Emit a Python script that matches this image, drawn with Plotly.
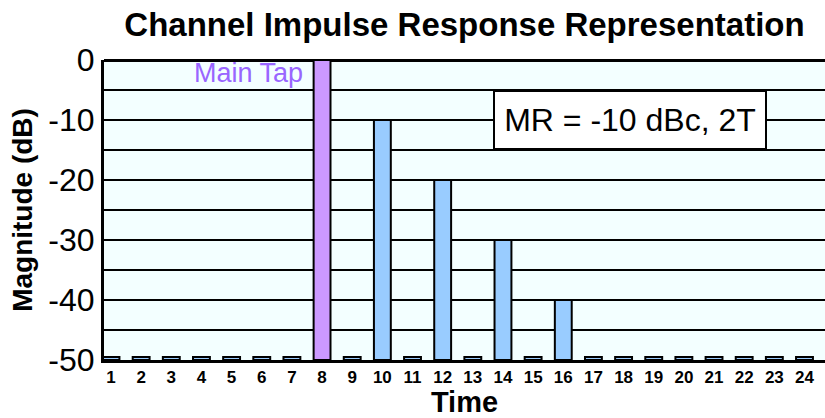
import plotly.graph_objects as go

# ---- data ----
time_taps = list(range(1, 25))
tick_labels = [str(t) for t in time_taps]
# magnitude in dB per tap (-49.5 = no tap, drawn as a stub at the floor)
magnitude_db = [-49.5, -49.5, -49.5, -49.5, -49.5, -49.5, -49.5, 0,
                -49.5, -10, -49.5, -20, -49.5, -30, -49.5, -40,
                -49.5, -49.5, -49.5, -49.5, -49.5, -49.5, -49.5, -49.5]
main_tap = 8
floor_db = -50
y_ticks = [0, -10, -20, -30, -40, -50]
y_tick_labels = ["0", "-10", "-20", "-30", "-40", "-50"]
title_text = "Channel Impulse Response Representation"
box_text = "MR = -10 dBc, 2T"

MAIN_COLOR = "#CC99FF"
ECHO_COLOR = "#99CCFF"
FONT = "Liberation Sans, Arial, sans-serif"

colors = [MAIN_COLOR if t == main_tap else ECHO_COLOR for t in time_taps]
heights = [m - floor_db for m in magnitude_db]

W, H = 825, 418

fig = go.Figure()
fig.add_trace(go.Bar(
    x=time_taps, y=heights, base=floor_db,
    width=0.56,
    marker=dict(color=colors, line=dict(color="black", width=2)),
    hoverinfo="skip",
))

fig.add_annotation(
    x=main_tap, y=-2.2, xref="x", yref="y",
    text="Main Tap", showarrow=False,
    xanchor="right", yanchor="middle", xshift=-17,
    font=dict(family=FONT, size=27, color="#9966FF"),
)
fig.add_annotation(
    x=18.2, y=-10, xref="x", yref="y",
    text=box_text, showarrow=False,
    xanchor="center", yanchor="middle",
    width=270, height=56,
    bgcolor="white", bordercolor="black", borderwidth=2, borderpad=0,
    font=dict(family=FONT, size=32, color="black"),
)

fig.update_layout(
    width=W, height=H,
    margin=dict(l=104, r=0, t=60, b=58, autoexpand=False),
    paper_bgcolor="white",
    plot_bgcolor="#F3FFFF",
    showlegend=False,
    bargap=0,
    title=dict(text="<b>" + title_text + "</b>", x=0.5, xref="paper",
               xanchor="center", y=1 - 24 / H, yref="container", yanchor="middle",
               font=dict(family=FONT, size=33, color="black")),
    font=dict(family=FONT, color="black"),
)

fig.update_xaxes(
    range=[0.768, 24.68], automargin=False,
    tickmode="array", tickvals=time_taps, ticktext=tick_labels,
    tickfont=dict(family=FONT, size=17, color="black", weight="bold"),
    ticks="", showgrid=False, zeroline=False,
    showline=True, linecolor="black", linewidth=3,
    title=dict(text="<b>Time</b>", font=dict(family=FONT, size=29, color="black"), standoff=0),
)
fig.update_yaxes(
    range=[floor_db, 0], automargin=False,
    tickmode="array", tickvals=y_ticks, ticktext=y_tick_labels,
    tickfont=dict(family=FONT, size=32, color="black"),
    ticks="", ticklabelstandoff=0,
    showgrid=True, gridcolor="black", gridwidth=2,
    minor=dict(dtick=5, showgrid=True, gridcolor="black", gridwidth=2),
    zeroline=True, zerolinecolor="black", zerolinewidth=3,
    showline=True, linecolor="black", linewidth=3,
    title=dict(text="<b>Magnitude (dB)</b>", font=dict(family=FONT, size=28, color="black"), standoff=8),
)

# remove the default 8px page margin so the figure fills the window exactly
fig.write_html("out.html",
               config={"displayModeBar": False, "staticPlot": True},
               post_script="document.body.style.margin='0';document.body.style.overflow='hidden';")
